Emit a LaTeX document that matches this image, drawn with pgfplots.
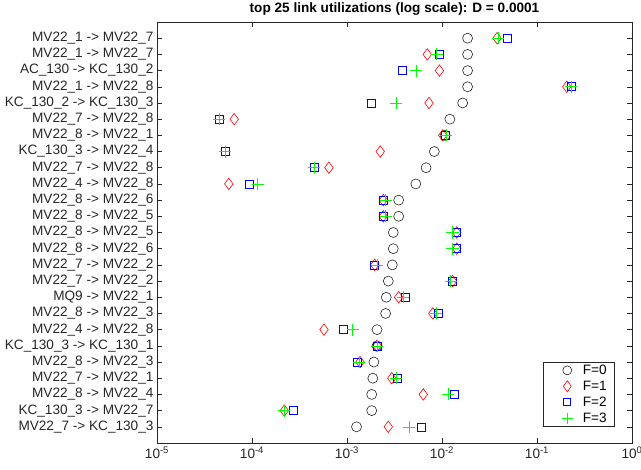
\documentclass[border=0pt]{standalone}
\usepackage{pgfplots}
\usepackage{pgfplotstable}
\pgfplotsset{compat=1.18}
\usetikzlibrary{shapes.geometric, shapes.misc}
\usepackage{fontspec}
\setmainfont{Liberation Sans}
\definecolor{axgray}{RGB}{38,38,38}
\definecolor{mgreen}{RGB}{0,255,0}

% marker shapes (drawn as nodes at the data points)
\tikzset{
    mk/.style={inner sep=0pt, outer sep=0pt, anchor=center, line width=0.6pt, fill=none},
    mk0/.style={mk, circle, draw=axgray, minimum size=10pt},
    mk1/.style={mk, diamond, draw=red, minimum width=8.5pt, minimum height=11.5pt},
    mk2/.style={mk, rectangle, draw=blue, minimum size=8pt},
    mk3/.style={mk, cross out, rotate=45, draw=mgreen, minimum size=8.5pt},
}

% row, F=0, F=1, F=2, F=3
\pgfplotstableread{
row  f0       f1       f2       f3
1    0.0186   0.038    0.049    0.039
2    0.0186   0.0070   0.0093   0.0088
3    0.0186   0.0094   0.0038   0.0053
4    0.0186   0.206    0.228    0.228
5    0.0165   0.0073   0.00182  0.0033
6    0.0121   6.5e-5   4.53e-5  4.53e-5
7    0.0108   0.0102   0.0108   0.011
8    0.0083   0.00224  5.2e-5   5.2e-5
9    0.0068   6.45e-4  4.53e-4  4.53e-4
10   0.0053   5.7e-5   9.3e-5   1.15e-4
11   0.0035   0.00241  0.00241  0.00255
12   0.0035   0.00241  0.00241  0.00255
13   0.00307  0.0143   0.0143   0.0129
14   0.00307  0.0143   0.0143   0.0129
15   0.0030   0.00196  0.00196  0.00206
16   0.00272  0.0129   0.0129   0.0123
17   0.00259  0.0035   0.0041   0.0039
18   0.00255  0.0080   0.0092   0.0087
19   0.00207  5.73e-4  9.1e-4   0.00115
20   0.00207  0.00207  0.00207  0.00207
21   0.00192  0.00137  0.00127  0.00134
22   0.00187  0.00296  0.0034   0.00329
23   0.00182  0.00635  0.0135   0.0117
24   0.00182  2.19e-4  2.75e-4  2.19e-4
25   0.00126  0.00272  0.00605  0.0045
}\util

\begin{document}
\begin{tikzpicture}
\begin{axis}[
    at={(157pt,27pt)}, anchor=south west,
    scale only axis, width=475pt, height=421pt,
    xmode=log, log basis x=10,
    xmin=1e-5, xmax=1,
    xtick={1e-5,1e-4,1e-3,1e-2,1e-1,1},
    xticklabels={10\textsuperscript{-5},10\textsuperscript{-4},10\textsuperscript{-3},10\textsuperscript{-2},10\textsuperscript{-1},10\textsuperscript{0}},
    ymin=0, ymax=26, y dir=reverse,
    ytick={1,...,25},
    yticklabels={
        MV22\_1 -> MV22\_7, MV22\_1 -> MV22\_7, AC\_130 -> KC\_130\_2,
        MV22\_1 -> MV22\_8, KC\_130\_2 -> KC\_130\_3, MV22\_7 -> MV22\_8,
        MV22\_8 -> MV22\_1, KC\_130\_3 -> MV22\_4, MV22\_7 -> MV22\_8,
        MV22\_4 -> MV22\_8, MV22\_8 -> MV22\_6, MV22\_8 -> MV22\_5,
        MV22\_8 -> MV22\_5, MV22\_8 -> MV22\_6, MV22\_7 -> MV22\_2,
        MV22\_7 -> MV22\_2, MQ9 -> MV22\_1, MV22\_8 -> MV22\_3,
        MV22\_4 -> MV22\_8, KC\_130\_3 -> KC\_130\_1, MV22\_8 -> MV22\_3,
        MV22\_7 -> MV22\_1, MV22\_8 -> MV22\_4, KC\_130\_3 -> MV22\_7,
        MV22\_7 -> KC\_130\_3},
    tick label style={font=\fontsize{13.6}{15}\selectfont, text=axgray},
    axis line style={axgray, line width=0.6pt},
    every tick/.style={axgray, line width=0.5pt},
    major tick length=5pt, minor tick length=3pt,
    tick align=inside,
    title={top 25 link utilizations (log scale): D = 0.0001},
    title style={font=\bfseries\fontsize{13.6}{15}\selectfont, yshift=-3pt},
    legend style={at={(0.964,0.038)}, anchor=south east,
        font=\fontsize{13.6}{15}\selectfont, draw=axgray, line width=0.6pt,
        row sep=1pt, inner xsep=6pt, inner ysep=1pt,
        /tikz/every odd column/.append style={column sep=4pt}},
    nodes near coords={},
]
\addplot[draw=none, mark=none, every node near coord/.style={mk0},
    legend image code/.code={\path[draw=none, fill=none] (0pt,-4pt) rectangle (27.5pt,4pt);
        \node[mk0, minimum size=9pt] at (18pt,0pt) {};}]
    table[x=f0, y=row] {\util};
\addlegendentry{F=0}
\addplot[draw=none, mark=none, every node near coord/.style={mk1},
    legend image code/.code={\path[draw=none, fill=none] (0pt,-4pt) rectangle (27.5pt,4pt);
        \node[mk1, minimum width=8pt, minimum height=11pt] at (18pt,0pt) {};}]
    table[x=f1, y=row] {\util};
\addlegendentry{F=1}
\addplot[draw=none, mark=none, every node near coord/.style={mk2},
    legend image code/.code={\path[draw=none, fill=none] (0pt,-4pt) rectangle (27.5pt,4pt);
        \node[mk2, minimum size=7pt] at (18pt,0pt) {};}]
    table[x=f2, y=row] {\util};
\addlegendentry{F=2}
\addplot[draw=none, mark=none, every node near coord/.style={mk3},
    legend image code/.code={\path[draw=none, fill=none] (0pt,-4pt) rectangle (27.5pt,4pt);
        \node[mk3, minimum size=7.5pt] at (18pt,0pt) {};}]
    table[x=f3, y=row] {\util};
\addlegendentry{F=3}
\end{axis}
\pgfresetboundingbox
\useasboundingbox (0,0) rectangle (641pt,470pt);
\end{tikzpicture}
\end{document}
